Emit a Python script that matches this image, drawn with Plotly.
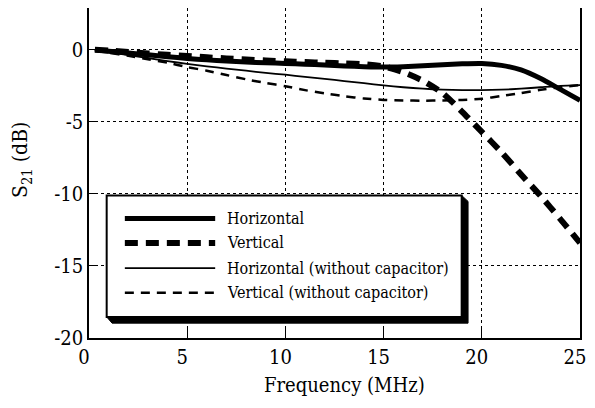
import plotly.graph_objects as go

freq = [0.3, 1, 2, 3, 4, 5, 6, 7, 8, 9, 10, 11, 12, 13, 14, 15, 16, 17, 18, 19, 20, 21, 22, 23, 24, 25]

horizontal = [0, -0.1, -0.22, -0.35, -0.48, -0.6, -0.7, -0.78, -0.85, -0.9, -0.95, -1.0, -1.05,
              -1.12, -1.17, -1.2, -1.17, -1.1, -1.03, -0.97, -0.95, -1.08, -1.4, -2.0, -2.75, -3.5]
vertical = [0, -0.05, -0.15, -0.25, -0.35, -0.43, -0.52, -0.6, -0.67, -0.74, -0.8, -0.85, -0.9,
            -0.95, -1.0, -1.15, -1.55, -2.15, -3.0, -4.3, -5.7, -7.1, -8.65, -10.15, -11.75, -13.4]
horizontal_nocap = [0, -0.17, -0.37, -0.57, -0.78, -0.98, -1.15, -1.3, -1.45, -1.6, -1.73, -1.88, -2.02,
                    -2.17, -2.32, -2.47, -2.6, -2.7, -2.77, -2.8, -2.8, -2.77, -2.7, -2.6, -2.5, -2.45]
vertical_nocap = [0, -0.2, -0.42, -0.65, -0.9, -1.2, -1.45, -1.75, -2.05, -2.3, -2.53, -2.8, -3.03,
                  -3.22, -3.38, -3.48, -3.52, -3.53, -3.52, -3.48, -3.4, -3.2, -3.0, -2.78, -2.6, -2.45]

names = ["Horizontal", "Vertical", "Horizontal (without capacitor)", "Vertical (without capacitor)"]
series = [horizontal, vertical, horizontal_nocap, vertical_nocap]
styles = [dict(width=5, dash="solid"),
          dict(width=6, dash="13px,8px"),
          dict(width=1.8, dash="solid"),
          dict(width=2.5, dash="9px,7px")]

x_ticks = [0, 5, 10, 15, 20, 25]
y_ticks = [0, -5, -10, -15, -20]

FONT = "DejaVu Serif Condensed, DejaVu Serif"

fig = go.Figure()
for name, ys, st in zip(names, series, styles):
    fig.add_trace(go.Scatter(x=freq, y=ys, mode="lines", name=name,
                             line=dict(color="black", shape="spline", smoothing=0.6, **st),
                             showlegend=False))

# Custom legend box (paper coordinates) with drop shadow
shapes = [
    dict(type="path", xref="paper", yref="paper",
         path="M 0.047 0.045 L 0.772 0.045 L 0.772 0.414 L 0.759 0.432 L 0.759 0.064 L 0.036 0.064 Z",
         fillcolor="black", line=dict(color="black", width=1), layer="above"),
    dict(type="rect", xref="paper", yref="paper", x0=0.036, x1=0.759, y0=0.064, y1=0.432,
         fillcolor="white", line=dict(color="black", width=2), layer="above"),
]
row_y = [0.362, 0.288, 0.212, 0.137]
annotations = []
for name, st, ry in zip(names, styles, row_y):
    shapes.append(dict(type="line", xref="paper", yref="paper", x0=0.073, x1=0.257, y0=ry, y1=ry,
                       line=dict(color="black", width=st["width"], dash=st["dash"]), layer="above"))
    annotations.append(dict(xref="paper", yref="paper", x=0.277, y=ry, text=name, showarrow=False,
                            xanchor="left", yanchor="middle", font=dict(family=FONT, size=16, color="black")))

annotations.append(dict(xref="paper", yref="paper", x=0.52, y=-0.142, text="Frequency (MHz)",
                        showarrow=False, xanchor="center", yanchor="middle",
                        font=dict(family=FONT, size=20, color="black")))
annotations.append(dict(xref="paper", yref="paper", x=-0.138, y=0.54, text="S<sub>21</sub> (dB)",
                        showarrow=False, xanchor="center", yanchor="middle", textangle=-90,
                        font=dict(family=FONT, size=21, color="black")))

fig.update_layout(
    width=587, height=400,
    margin=dict(l=81, r=15, t=0, b=70, autoexpand=False),
    paper_bgcolor="white", plot_bgcolor="white",
    font=dict(family=FONT, size=20, color="black"),
    shapes=shapes, annotations=annotations,
    showlegend=False,
)
fig.update_xaxes(range=[0, 25], tickvals=x_ticks, ticktext=[str(v) for v in x_ticks],
                 showline=True, linecolor="black", linewidth=1.5, mirror=True,
                 ticks="inside", ticklen=9, tickcolor="black", tickwidth=1,
                 showgrid=True, gridcolor="black", gridwidth=1, griddash="dot", zeroline=False,
                 automargin=False, ticklabelshift=-5, tickfont=dict(family=FONT, size=20))
fig.update_yaxes(range=[-20, 2.9], tickvals=y_ticks, ticktext=[str(v) for v in y_ticks],
                 showline=True, linecolor="black", linewidth=1.5, mirror=True,
                 ticks="inside", ticklen=9, tickcolor="black", tickwidth=1,
                 showgrid=True, gridcolor="black", gridwidth=1, griddash="dot", zeroline=False,
                 automargin=False, tickfont=dict(family=FONT, size=20))

fig.write_html("out.html")
